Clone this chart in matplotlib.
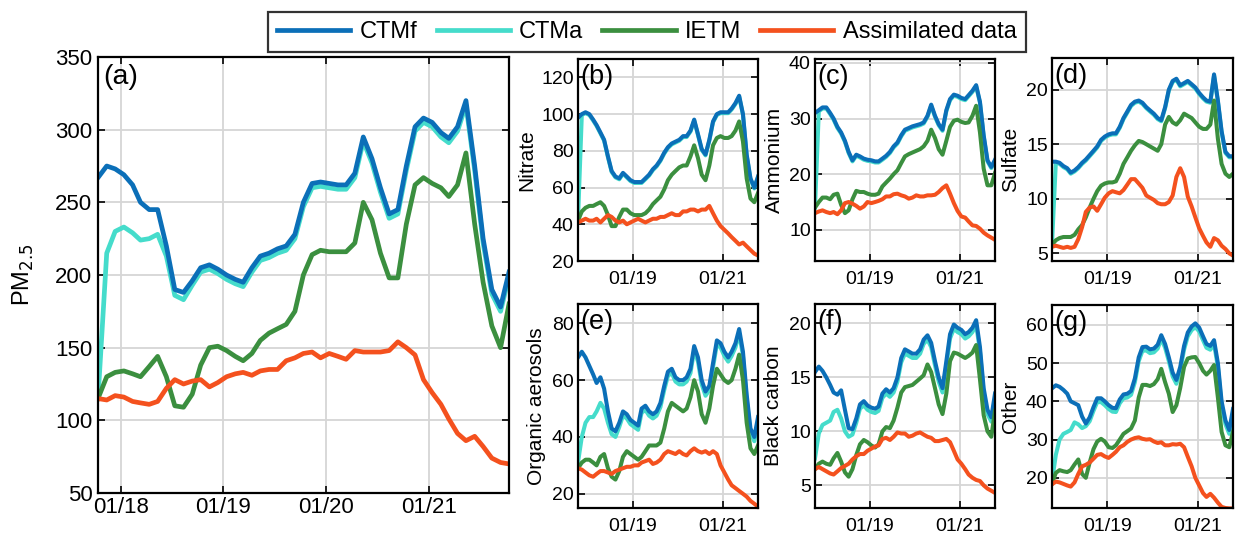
import numpy as np
import pandas as pd
import matplotlib
matplotlib.use("Agg")
import matplotlib.pyplot as plt
import matplotlib.dates as mdates
from matplotlib.lines import Line2D

plt.rcParams['font.family'] = ['Liberation Sans', 'DejaVu Sans']

# monthly samples, Oct 2017 - Oct 2021
dates = pd.date_range('2017-10-12', periods=49, freq=pd.DateOffset(months=1))

# (a) PM2.5
ctmf_a = [267, 275, 273, 269, 262, 250, 245, 245, 220, 190, 188, 196, 205, 207, 204, 200, 197, 195, 205, 213,
          215, 218, 220, 228, 250, 263, 264, 263, 262, 262, 270, 295, 280, 260, 242, 245, 275, 302, 308, 305,
          298, 294, 302, 320, 275, 225, 190, 178, 202]
ctma_a = [115, 215, 230, 233, 229, 224, 225, 228, 213, 186, 183, 193, 202, 204, 201, 197, 194, 192, 202, 210,
          212, 215, 217, 225, 247, 260, 261, 260, 259, 259, 267, 292, 277, 257, 239, 242, 272, 299, 305, 302,
          295, 291, 299, 317, 272, 222, 187, 175, 199]
ietm_a = [115, 130, 133, 134, 132, 130, 137, 144, 130, 110, 109, 118, 138, 150, 151, 148, 144, 141, 146, 155,
          160, 163, 166, 175, 200, 214, 217, 216, 216, 216, 222, 250, 238, 215, 198, 198, 235, 262, 267, 263,
          260, 254, 262, 284, 235, 195, 165, 150, 180]
assim_a = [115, 114, 117, 116, 113, 112, 111, 113, 122, 128, 125, 127, 128, 123, 126, 130, 132, 133, 131, 134,
           135, 135, 141, 143, 146, 147, 143, 146, 144, 142, 148, 147, 147, 147, 148, 154, 150, 145, 128, 119,
           111, 101, 91, 86, 89, 82, 74, 71, 70]

# (b) Nitrate
ctmf_b = [98, 100, 101, 100, 97, 94, 90, 86, 77, 69, 66, 65, 68, 66, 64, 63, 63, 63, 65, 67,
          70, 72, 75, 79, 82, 84, 85, 86, 88, 88, 91, 97, 89, 81, 78, 86, 96, 100, 101, 101,
          101, 103, 106, 110, 100, 78, 65, 60, 66]
ctma_b = [42, 99.5, 100.5, 99.5, 96.5, 93.5, 89.5, 85.5, 76.5, 68.5, 65.5, 64.5, 67.5, 65.5, 63.5, 62.5, 62.5,
          62.5, 64.5, 66.5, 69.5, 71.5, 74.5, 78.5, 81.5, 83.5, 84.5, 85.5, 87.5, 87.5, 90.5, 96.5, 88.5, 80.5,
          77.5, 85.5, 95.5, 99.5, 100.5, 100.5, 100.5, 102.5, 105.5, 109.5, 99.5, 77.5, 64.5, 59.5, 65.5]
ietm_b = [42, 47, 49, 50, 50, 51, 52, 50, 45, 39, 39, 44, 48, 48, 46, 45, 45, 45, 46, 48,
          51, 53, 55, 59, 64, 67, 69, 71, 72, 72, 77, 83, 76, 67, 64, 72, 83, 87, 88, 87,
          87, 88, 91, 96, 85, 65, 54, 52, 57]
assim_b = [41, 42, 43, 42, 42, 43, 41, 43, 45, 44, 42, 41, 42, 40, 41, 42, 43, 42, 41, 42,
           43, 43, 44, 44, 45, 46, 45, 45, 47, 47, 48, 48, 47, 48, 48, 50, 46, 42, 39, 37,
           35, 33, 31, 29, 30, 28, 26, 24, 23]

# (c) Ammonium
ctmf_c = [31, 31.5, 32, 32, 31, 30, 28.5, 27.5, 26, 24, 22.5, 23.5, 23.2, 22.8, 22.6, 22.5, 22.3, 22.3, 22.8, 23.3,
          24, 25, 25.7, 27, 28, 28.3, 28.6, 28.8, 29, 29.3, 30.5, 32.5, 30.5, 29, 28, 31.5, 33.5, 34.3, 34.1, 33.7,
          33.5, 34.2, 35, 36, 33, 27, 22.5, 21.3, 22.6]
ctma_c = [14, 31.3, 31.8, 31.8, 30.8, 29.8, 28.3, 27.3, 25.8, 23.8, 22.3, 23.3, 23.0, 22.6, 22.4, 22.3, 22.1, 22.1,
          22.6, 23.1, 23.8, 24.8, 25.5, 26.8, 27.8, 28.1, 28.4, 28.6, 28.8, 29.1, 30.3, 32.3, 30.3, 28.8, 27.8, 31.3,
          33.3, 34.1, 33.9, 33.5, 33.3, 34.0, 34.8, 35.8, 32.8, 26.8, 22.3, 21.1, 22.4]
ietm_c = [14, 15, 15.8, 15.8, 15.5, 16.3, 16.5, 14.5, 13, 13.5, 15.5, 17, 16.8, 16.8, 16.5, 16.3, 16.3, 16.5, 17.8,
          18.5, 19.2, 20, 20.7, 22, 23.2, 23.6, 23.9, 24.2, 24.5, 25, 26, 28, 26.5, 24.5, 23.5, 26, 28.5, 29.6, 29.8,
          29.4, 29.2, 29.3, 30.5, 32.3, 27.5, 21, 18, 18, 20.2]
assim_c = [13, 13.3, 13.5, 13.2, 13, 13.2, 12.8, 13.5, 14.8, 15, 14.7, 14.3, 13.8, 14.2, 15, 14.8, 15, 15.2, 15.5,
           16, 16, 16.4, 16.5, 16.2, 16, 15.6, 15.8, 16.2, 16, 16, 16.2, 16.2, 16.3, 16.8, 17.5, 18, 16.5, 14.8,
           13.4, 12.4, 12.2, 11.5, 10.8, 10.7, 10.2, 9.5, 9, 8.6, 8.2]

# (d) Sulfate
ctmf_d = [13.4, 13.4, 13.3, 13.0, 12.8, 12.4, 12.6, 12.9, 13.3, 13.6, 14.0, 14.4, 14.8, 15.4, 15.7, 15.9, 16.0,
          16.0, 16.6, 17.4, 18.0, 18.6, 18.9, 19.0, 18.8, 18.4, 18.1, 17.8, 17.4, 17.2, 18.4, 20.0, 20.8, 21.0,
          20.4, 20.6, 20.8, 20.5, 20.2, 19.7, 19.3, 19.0, 18.9, 21.4, 19.0, 16.2, 14.3, 13.9, 13.9]
ctma_d = [5.8, 13.3, 13.2, 12.9, 12.7, 12.3, 12.5, 12.8, 13.2, 13.5, 13.9, 14.3, 14.7, 15.3, 15.6, 15.8, 15.9,
          15.9, 16.5, 17.3, 17.9, 18.5, 18.8, 18.9, 18.7, 18.3, 18.0, 17.7, 17.3, 17.1, 18.3, 19.9, 20.7, 20.9,
          20.3, 20.5, 20.7, 20.4, 20.1, 19.6, 19.2, 18.9, 18.8, 21.3, 18.9, 16.1, 14.2, 13.8, 13.8]
ietm_d = [5.8, 6.2, 6.4, 6.5, 6.5, 6.5, 6.7, 7.2, 7.6, 8.3, 9.2, 10.0, 10.7, 11.2, 11.4, 11.5, 11.5, 11.6, 12.3,
          13.2, 13.8, 14.4, 14.9, 15.3, 15.2, 15.0, 14.8, 14.6, 14.4, 15.0, 16.8, 17.5, 17.0, 16.8, 17.2, 17.8,
          17.6, 17.4, 17.0, 16.6, 16.4, 16.4, 16.8, 19.0, 15.5, 13.2, 12.3, 12.0, 12.3]
assim_d = [5.6, 5.7, 5.6, 5.5, 5.6, 5.5, 5.6, 6.3, 7.4, 8.8, 9.2, 9.3, 8.9, 9.5, 10.1, 10.5, 10.7, 10.6, 10.5,
           10.8, 11.3, 11.8, 11.8, 11.4, 11.0, 10.3, 10.1, 9.9, 9.6, 9.5, 9.5, 9.7, 10.3, 12.0, 12.8, 12.0, 10.2,
           9.3, 8.3, 7.3, 6.6, 6.0, 5.6, 6.4, 6.2, 5.7, 5.4, 5.0, 4.8]

# (e) Organic aerosols
ctmf_e = [68, 70, 68, 65, 62, 59, 61, 57, 49, 43, 42, 45, 49, 48, 46, 45, 44, 50, 51, 49,
          48, 49, 52, 58, 63, 64, 61, 60, 60, 61, 64, 72, 68, 60, 56, 58, 66, 74, 73, 70,
          68, 70, 73, 78, 70, 55, 43, 40, 47]
ctma_e = [31, 40, 45, 47, 47, 49, 52, 50, 45, 41, 40, 43.5, 47.5, 46.5, 44.5, 43.5, 42.5, 48.5, 49.5, 47.5,
          46.5, 47.5, 50.5, 56.5, 61.5, 62.5, 59.5, 58.5, 58.5, 59.5, 62.5, 70.5, 66.5, 58.5, 54.5, 56.5, 64.5,
          72.5, 71.5, 68.5, 66.5, 68.5, 71.5, 76.5, 68.5, 53.5, 41.5, 38.5, 45.5]
ietm_e = [29, 31, 32, 32, 31, 30, 33, 34, 29, 26, 25, 28, 33, 35, 34, 33, 32, 33, 35, 37,
          37, 37, 38, 43, 49, 52, 51, 50, 49, 50, 54, 60, 56, 48, 45, 50, 58, 64, 62, 60,
          59, 60, 64, 69, 60, 45, 36, 34, 37]
assim_e = [29, 28.5, 27.5, 26.5, 26, 27, 28, 28, 27.5, 27, 28, 28.5, 29, 29.5, 29.5, 30, 30, 31, 31.5, 32,
           30.5, 31, 32, 34, 35, 34.5, 34, 35, 34, 33.5, 35, 36, 35, 34.5, 35, 34, 35, 34, 30, 27.5,
           25, 23, 22, 21, 20, 19, 17.5, 16.5, 15.5]

# (f) Black carbon
ctmf_f = [15.5, 16, 15.6, 15, 14.3, 13.6, 13.4, 13.8, 12, 10.3, 10.2, 11.2, 12.5, 12.8, 12.4, 12.2, 12.1, 12.3,
          13.5, 13.9, 13.6, 14, 15, 16.8, 17.6, 17.4, 17.2, 17.2, 17.6, 18.5, 18.9, 18.2, 16.5, 15, 14, 16.5,
          19, 19.9, 19.6, 19.4, 19, 19.2, 19.6, 20.3, 17.8, 14, 12, 11.3, 13.5]
ctma_f = [7.5, 9.8, 10.6, 10.8, 11, 11.8, 12, 11.2, 10, 9.5, 9.7, 10.8, 12.1, 12.4, 12.0, 11.8, 11.7, 11.9,
          13.1, 13.5, 13.2, 13.6, 14.6, 16.4, 17.2, 17.0, 16.8, 16.8, 17.2, 18.1, 18.5, 17.8, 16.1, 14.6, 13.6,
          16.1, 18.6, 19.5, 19.2, 19.0, 18.6, 18.8, 19.2, 19.9, 17.4, 13.6, 11.6, 10.9, 13.1]
ietm_f = [6.5, 7, 7.2, 7, 6.9, 7.5, 8, 7.2, 6.2, 5.8, 6.5, 7.8, 8.8, 9.2, 9, 8.7, 8.5, 8.8, 10, 10.4,
          10.3, 11, 12.2, 13.6, 14.1, 14.2, 14.3, 14.6, 14.9, 15.2, 16.2, 15.5, 14, 12.5, 11.6, 13.5, 16.5,
          17.3, 17.2, 17, 16.8, 17, 17.3, 18, 14.8, 11.5, 10, 9.5, 11.9]
assim_f = [6.5, 6.7, 6.5, 6.3, 6.1, 6.0, 6.3, 6.6, 6.8, 7.0, 7.4, 7.7, 7.9, 7.9, 8.2, 8.4, 8.6, 8.7, 9.3, 9.4,
           9.2, 9.5, 9.9, 9.8, 9.8, 9.5, 9.6, 9.8, 9.9, 9.7, 9.5, 9.4, 9.1, 9.1, 9.2, 9.3, 9.0, 8.2, 7.4, 7.0,
           6.5, 6.0, 5.7, 5.5, 5.4, 5.0, 4.7, 4.5, 4.3]

# (g) Other
ctmf_g = [43.4, 44.2, 43.8, 43, 42, 40, 39.5, 39, 36, 34.2, 35.8, 38.5, 40.8, 40.8, 40, 39, 38.3, 38.2, 40.5, 41.8,
          42, 42.7, 46, 51.5, 54.2, 54.3, 53.6, 53.8, 54.8, 57.3, 55, 51.5, 47.5, 45.6, 49, 54.5, 58, 59.6, 60.4,
          59.3, 57, 55, 54.5, 56, 50, 40, 35, 32.5, 38]
ctma_g = [19, 26, 30, 31.5, 32, 32.5, 34.5, 34, 33, 33.5, 34.8, 37.5, 39.8, 39.8, 39, 38, 37.3, 37.2, 39.5, 40.8,
          41, 41.7, 45, 50.5, 53.2, 53.3, 52.6, 52.8, 53.8, 56.3, 54, 50.5, 46.5, 44.6, 48, 53.5, 57, 58.6, 59.4,
          58.3, 56, 54, 53.5, 55, 49, 39, 34, 31.5, 37]
ietm_g = [18.5, 21.3, 22, 21.7, 21.5, 22, 23.5, 24.8, 21, 20, 24, 27.5, 29.5, 30.2, 29.5, 28, 27.8, 28.5, 30, 31.5,
          32.2, 32.9, 35, 41, 44.3, 44.3, 44, 44.5, 45.8, 48.5, 45, 42, 37.2, 39, 43.5, 49, 51.2, 51.5, 51.6,
          50, 48, 47, 48, 49.5, 41, 32, 28.5, 28, 32]
assim_g = [18.3, 19, 18.8, 18.4, 18, 17.7, 18.8, 21, 23, 23.4, 24, 25, 26, 26.2, 25.6, 25.2, 26, 26.8, 28, 28.5,
           29.4, 30, 30.4, 30.6, 30.2, 30, 30.1, 29.5, 29.1, 29.3, 28.5, 28.5, 28.8, 28.7, 28.9, 28, 25.5, 23, 20,
           18, 16, 15, 15.8, 14.8, 13.5, 12.4, 12.1, 12, 12]

names = ['CTMf', 'CTMa', 'IETM', 'Assimilated data']
colors = {'CTMf': '#0b6fb8', 'CTMa': '#45dccb', 'IETM': '#3b8f3f', 'Assimilated data': '#f4511e'}

W, H = 1235, 539
fig = plt.figure(figsize=(W / 100, H / 100), dpi=100)


def box(l, t, r, b):
    return [l / W, 1 - b / H, (r - l) / W, (b - t) / H]


def draw(ax, f, a, ie, asm, lw):
    ax.plot(dates, a, color=colors['CTMa'], lw=lw, solid_joinstyle='round', zorder=3)
    ax.plot(dates, f, color=colors['CTMf'], lw=lw, solid_joinstyle='round', zorder=4)
    ax.plot(dates, ie, color=colors['IETM'], lw=lw, solid_joinstyle='round', zorder=5)
    ax.plot(dates, asm, color=colors['Assimilated data'], lw=lw, solid_joinstyle='round', zorder=6)


def style(ax, years, fs, xpad, ypad):
    ax.set_xlim(dates[0], dates[-1])
    ax.set_xticks([pd.Timestamp(f'{y}-01-01') for y in years])
    ax.xaxis.set_major_formatter(mdates.DateFormatter('%m/%y'))
    ax.grid(True, color='#d6d6d6', lw=1.3, zorder=0)
    ax.tick_params(direction='in', top=True, right=True, length=5, width=1.2, labelsize=fs)
    ax.tick_params(axis='x', pad=xpad)
    ax.tick_params(axis='y', pad=ypad)
    for s in ax.spines.values():
        s.set_linewidth(1.6)
        s.set_zorder(10)


def ylab(ax, text, fs, x):
    ax.set_ylabel(text, fontsize=fs)
    ax.yaxis.label.set_va('center')
    ax.yaxis.set_label_coords(x, 0.5)


# panel (a)
ax = fig.add_axes(box(98, 57, 509, 493))
draw(ax, ctmf_a, ctma_a, ietm_a, assim_a, 3.4)
style(ax, [2018, 2019, 2020, 2021], 16, 3, 4)
ax.set_ylim(50, 350)
ax.set_yticks(np.arange(50, 351, 50))
ylab(ax, 'PM$_{2.5}$', 17, -0.182)
ax.text(0.012, 0.985, '(a)', transform=ax.transAxes, ha='left', va='top', fontsize=20.5)

small = [
    ('(b)', 'Nitrate', box(578, 59, 758, 261), (20, 130), [20, 40, 60, 80, 100, 120], -0.283,
     ctmf_b, ctma_b, ietm_b, assim_b),
    ('(c)', 'Ammonium', box(815, 59, 995, 261), (4.4, 40.7), [10, 20, 30, 40], -0.228,
     ctmf_c, ctma_c, ietm_c, assim_c),
    ('(d)', 'Sulfate', box(1052, 58, 1233, 261), (4.3, 22.9), [5, 10, 15, 20], -0.228,
     ctmf_d, ctma_d, ietm_d, assim_d),
    ('(e)', 'Organic aerosols', box(578, 304, 758, 508), (15, 86.8), [20, 40, 60, 80], -0.233,
     ctmf_e, ctma_e, ietm_e, assim_e),
    ('(f)', 'Black carbon', box(815, 304, 995, 508), (2.9, 21.8), [5, 10, 15, 20], -0.228,
     ctmf_f, ctma_f, ietm_f, assim_f),
    ('(g)', 'Other', box(1052, 305, 1233, 508), (12.1, 65.2), [20, 30, 40, 50, 60], -0.228,
     ctmf_g, ctma_g, ietm_g, assim_g),
]

for tag, lab, pos, ylim, yt, lx, f, a, ie, asm in small:
    ax = fig.add_axes(pos)
    draw(ax, f, a, ie, asm, 2.9)
    style(ax, [2019, 2021], 14, 7, 3)
    ax.set_ylim(*ylim)
    ax.set_yticks(yt)
    ylab(ax, lab, 15, lx)
    ax.text(0.015, 0.975, tag, transform=ax.transAxes, ha='left', va='top', fontsize=19.5)

handles = [Line2D([], [], color=colors[n], lw=3.4) for n in names]
leg = fig.legend(handles, names, loc='center', bbox_to_anchor=(647 / W, 1 - 32 / H), ncol=4,
                 fontsize=17, frameon=True, fancybox=False, handlelength=3.1, handletextpad=0.4,
                 columnspacing=0.8, borderpad=0.4, borderaxespad=0)
leg.get_frame().set_edgecolor('black')
leg.get_frame().set_linewidth(1.6)

fig.savefig('out.png', dpi=100)
